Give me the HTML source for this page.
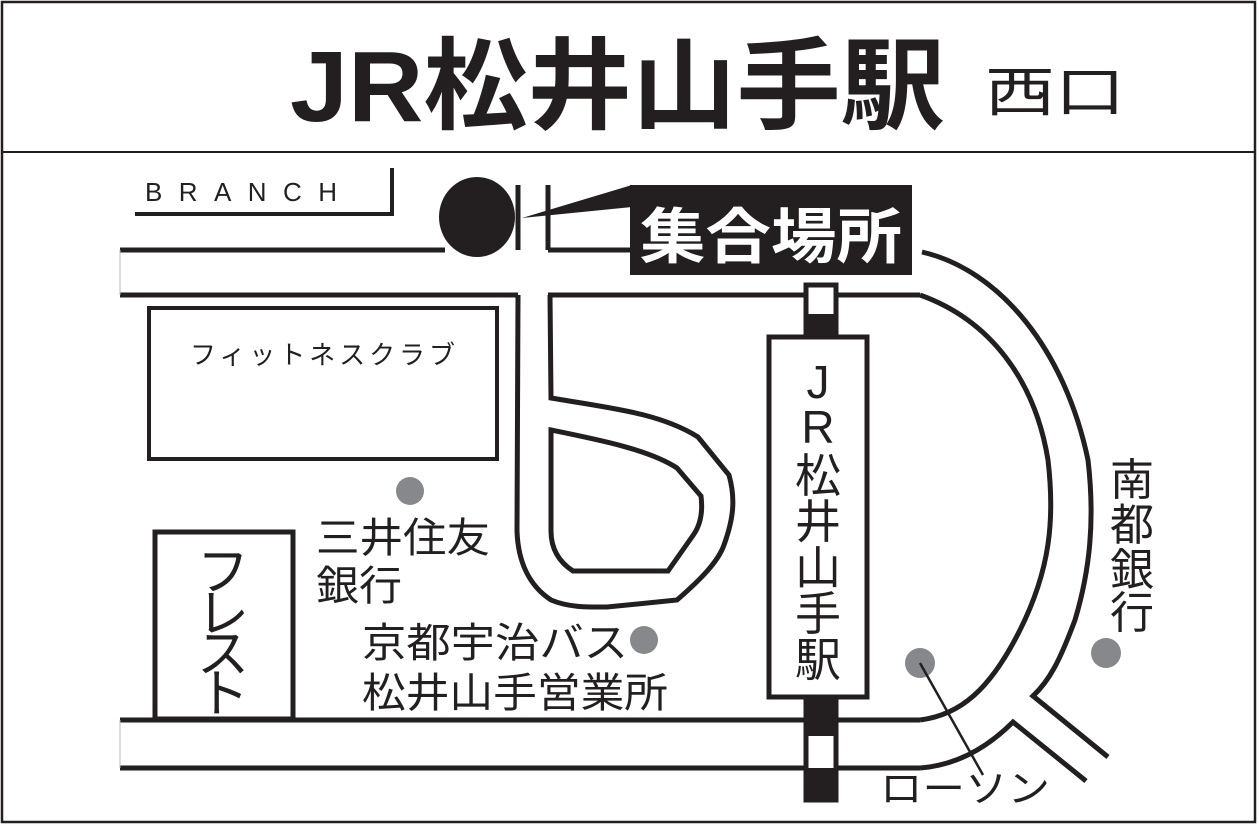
<!DOCTYPE html>
<html><head><meta charset="utf-8"><style>
html,body{margin:0;padding:0;background:#fff}
svg{display:block}
text{font-family:"Liberation Sans","Noto Sans CJK JP",sans-serif;fill:#231f20}
</style></head><body>
<svg width="1259" height="826" viewBox="0 0 1259 826" xmlns="http://www.w3.org/2000/svg">
<rect x="2" y="2" width="1253" height="820" fill="#fff" stroke="#231f20" stroke-width="2.5"/>
<line x1="2" y1="152" x2="1255" y2="152" stroke="#231f20" stroke-width="2"/>
<text x="290" y="121" font-size="100" font-weight="bold" textLength="655" lengthAdjust="spacingAndGlyphs">JR松井山手駅</text>
<text x="985" y="111" font-size="54" textLength="140" lengthAdjust="spacingAndGlyphs">西口</text>

<text x="145" y="201" font-size="26" textLength="192" lengthAdjust="spacing">BRANCH</text>
<polyline points="135,214 392,214 392,168" fill="none" stroke="#231f20" stroke-width="4"/>

<g fill="none" stroke="#231f20" stroke-width="5">
<line x1="120" y1="250" x2="445" y2="250"/>
<line x1="548" y1="250" x2="632" y2="250"/>
<line x1="518" y1="185" x2="518" y2="250"/>
<line x1="548" y1="185" x2="548" y2="250"/>
<line x1="120" y1="295" x2="518" y2="295"/>
<line x1="548" y1="295" x2="920" y2="295"/>
<!-- loop -->
<path d="M518,295 L517,531 C518,560 528,585 551,600 C570,608 590,607 607,607 L677,600 C700,580 718,562 724,545 C733,520 736,500 729,475 L698,437 C660,413 610,408 551,398 L550,295"/>
<path d="M551,430 C600,440 650,450 677,468 L701,496 C703,512 700,525 694,534 L668,571 L573,571 C556,560 551,545 551,531 Z"/>
<line x1="120" y1="720" x2="920" y2="720"/>
<line x1="120" y1="768" x2="920" y2="768"/>
<path d="M920,295 C990,320 1035,380 1048,460 C1055,520 1050,570 1020,630 C990,690 960,715 920,720"/>
<path d="M922,252 C1000,270 1065,350 1088,460 C1095,520 1090,570 1075,620 C1060,660 1050,680 1033,696 L1108,757"/>
<path d="M920,768 C960,765 990,745 1013,722 L1086,781"/>
</g>
<line x1="120" y1="250" x2="120" y2="295" stroke="#bbb" stroke-width="1"/>
<line x1="120" y1="720" x2="120" y2="768" stroke="#bbb" stroke-width="1"/>

<ellipse cx="477" cy="217" rx="38" ry="40" fill="#231f20"/>
<polygon points="522,218 632,185 632,207" fill="#231f20"/>
<rect x="630" y="185" width="282" height="90" fill="#231f20"/>
<text x="640" y="258" font-size="60" font-weight="bold" style="fill:#fff" textLength="262" lengthAdjust="spacingAndGlyphs">集合場所</text>

<rect x="149" y="308" width="348" height="151" fill="none" stroke="#231f20" stroke-width="4"/>
<text x="190" y="364" font-size="26" textLength="265" lengthAdjust="spacing">フィットネスクラブ</text>

<rect x="155" y="532" width="138" height="187" fill="#fff" stroke="#231f20" stroke-width="5"/>
<g font-size="52" text-anchor="middle">
<text x="223" y="590">フ</text><text x="223" y="632">レ</text><text x="223" y="672">ス</text><text x="223" y="712">ト</text>
</g>

<g fill="#87888b">
<circle cx="410" cy="491" r="14"/>
<circle cx="644" cy="640" r="14"/>
<circle cx="920" cy="663" r="15"/>
<circle cx="1106" cy="653" r="15"/>
</g>
<line x1="920" y1="663" x2="983" y2="775" stroke="#231f20" stroke-width="2.5"/>

<g font-size="41">
<text x="316" y="552" textLength="174" lengthAdjust="spacingAndGlyphs">三井住友</text>
<text x="316" y="600" textLength="86" lengthAdjust="spacingAndGlyphs">銀行</text>
<text x="362" y="657" textLength="266" lengthAdjust="spacingAndGlyphs">京都宇治バス</text>
<text x="362" y="707" textLength="306" lengthAdjust="spacingAndGlyphs">松井山手営業所</text>
<text x="880" y="802" font-size="38" textLength="170" lengthAdjust="spacingAndGlyphs">ローソン</text>
</g>
<g font-size="44" text-anchor="middle">
<text x="1132" y="495">南</text><text x="1132" y="540">都</text><text x="1132" y="585">銀</text><text x="1132" y="628">行</text>
</g>

<rect x="806" y="285" width="30" height="515" fill="#fff" stroke="#231f20" stroke-width="5"/>
<rect x="804" y="314" width="34" height="24" fill="#231f20"/>
<rect x="804" y="698" width="34" height="38" fill="#231f20"/>
<rect x="804" y="768" width="34" height="34" fill="#231f20"/>
<rect x="769" y="337" width="98" height="360" fill="#fff" stroke="#231f20" stroke-width="5"/>
<g font-size="46" text-anchor="middle">
<text x="818" y="398">J</text><text x="818" y="443">R</text>
<text x="818" y="492">松</text><text x="818" y="538">井</text><text x="818" y="584">山</text><text x="818" y="630">手</text><text x="818" y="676">駅</text>
</g>
</svg>
</body></html>
